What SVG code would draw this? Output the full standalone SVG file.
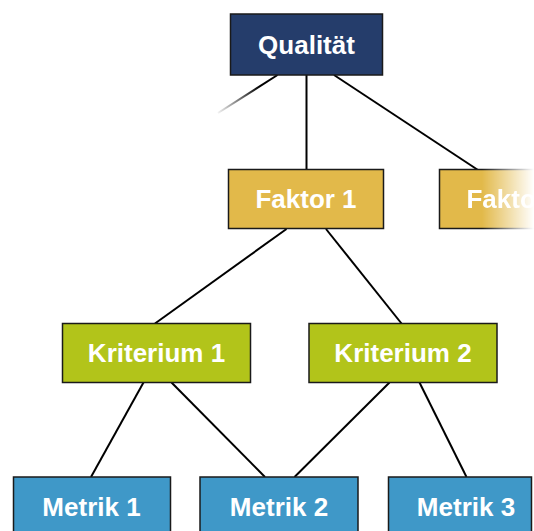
<svg xmlns="http://www.w3.org/2000/svg" width="534" height="531" viewBox="0 0 534 531">
<style>
.box{stroke:#1a1a1a;stroke-width:1.5}
.q{fill:#253d6b}.f{fill:#e2b94a}.k{fill:#b2c41a}.m{fill:#3f98c8}
.t{font-family:"Liberation Sans",Arial,sans-serif;font-weight:bold;font-size:26px;fill:#fff;text-anchor:middle}
.c{stroke:#000;stroke-width:2;fill:none}
</style>
<defs>
<linearGradient id="fadeLine" gradientUnits="userSpaceOnUse" x1="277.5" y1="75" x2="218" y2="113">
<stop offset="0.3" stop-color="#000" stop-opacity="1"/>
<stop offset="1" stop-color="#000" stop-opacity="0.05"/>
</linearGradient>
<linearGradient id="fadeMaskGrad" gradientUnits="userSpaceOnUse" x1="482" y1="0" x2="534" y2="0">
<stop offset="0" stop-color="#fff"/>
<stop offset="1" stop-color="#000"/>
</linearGradient>
<mask id="fadeMask" maskUnits="userSpaceOnUse" x="430" y="160" width="110" height="80">
<rect x="430" y="160" width="110" height="80" fill="url(#fadeMaskGrad)"/>
</mask>
</defs>
<g id="connectors">
<line x1="277.5" y1="75" x2="218" y2="113" stroke="url(#fadeLine)" stroke-width="2"/>
<line class="c" x1="306.5" y1="75" x2="306.5" y2="170"/>
<line class="c" x1="334" y1="75" x2="478" y2="170"/>
<line class="c" x1="286.5" y1="229" x2="155" y2="323.5"/>
<line class="c" x1="326" y1="229" x2="401.5" y2="323.5"/>
<line class="c" x1="143.5" y1="382.5" x2="91" y2="477"/>
<line class="c" x1="171.5" y1="382.5" x2="265" y2="477"/>
<line class="c" x1="389.5" y1="382.5" x2="294.5" y2="477"/>
<line class="c" x1="419.5" y1="382.5" x2="466.5" y2="477"/>
</g>
<g id="qualitaet">
<rect class="box q" x="230.5" y="14" width="152" height="61"/>
<text class="t" x="306.5" y="53.5">Qualität</text>
</g>
<g id="faktor1">
<rect class="box f" x="228.5" y="169.5" width="155" height="59"/>
<text class="t" x="306" y="208">Faktor 1</text>
</g>
<g id="faktor2" mask="url(#fadeMask)">
<rect class="box f" x="439.5" y="169.5" width="155" height="59"/>
<text class="t" x="517" y="208">Faktor 2</text>
</g>
<g id="kriterium1">
<rect class="box k" x="62.5" y="323.5" width="188" height="59"/>
<text class="t" x="156.5" y="362">Kriterium 1</text>
</g>
<g id="kriterium2">
<rect class="box k" x="309" y="323.5" width="188" height="59"/>
<text class="t" x="403" y="362">Kriterium 2</text>
</g>
<g id="metrik1">
<rect class="box m" x="13.5" y="477" width="157" height="59"/>
<text class="t" x="91.5" y="515.5">Metrik 1</text>
</g>
<g id="metrik2">
<rect class="box m" x="200" y="477" width="158" height="59"/>
<text class="t" x="279" y="515.5">Metrik 2</text>
</g>
<g id="metrik3">
<rect class="box m" x="388.5" y="477" width="143" height="59"/>
<text class="t" x="466" y="515.5">Metrik 3</text>
</g>
</svg>
